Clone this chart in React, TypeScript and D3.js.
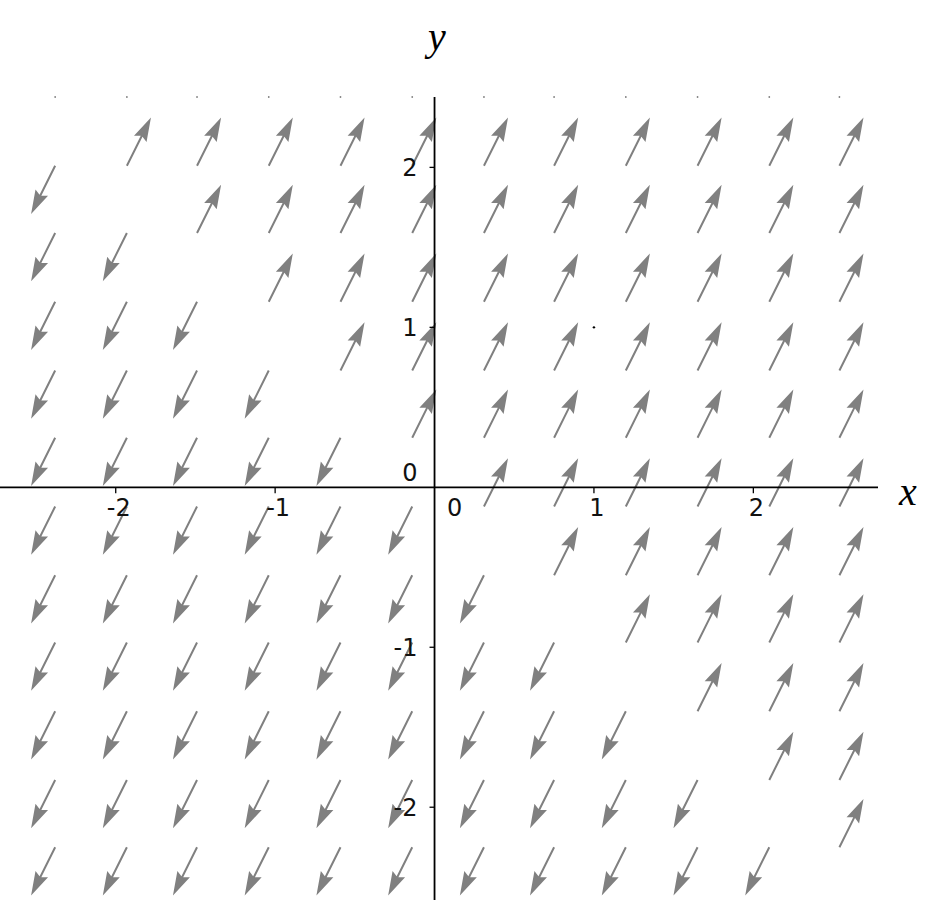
import React, { useRef, useEffect } from 'react'
import * as d3 from 'd3'

// grid of sample points (data coords)
const xGrid = [-2.38, -1.93, -1.49, -1.04, -0.59, -0.14, 0.31, 0.75, 1.2, 1.65, 2.1, 2.54]
const yGrid = [2.44, 2.01, 1.59, 1.16, 0.73, 0.31, -0.12, -0.55, -0.97, -1.4, -1.83, -2.25]

// direction of every arrow: 1 = along (1,2), -1 = against, 0 = zero vector (dot)
const signs = [
  [0, 0, 0, 0, 0, 0, 0, 0, 0, 0, 0, 0],
  [-1, 1, 1, 1, 1, 1, 1, 1, 1, 1, 1, 1],
  [-1, -1, 1, 1, 1, 1, 1, 1, 1, 1, 1, 1],
  [-1, -1, -1, 1, 1, 1, 1, 1, 1, 1, 1, 1],
  [-1, -1, -1, -1, 1, 1, 1, 1, 1, 1, 1, 1],
  [-1, -1, -1, -1, -1, 1, 1, 1, 1, 1, 1, 1],
  [-1, -1, -1, -1, -1, -1, 1, 1, 1, 1, 1, 1],
  [-1, -1, -1, -1, -1, -1, -1, 1, 1, 1, 1, 1],
  [-1, -1, -1, -1, -1, -1, -1, -1, 1, 1, 1, 1],
  [-1, -1, -1, -1, -1, -1, -1, -1, -1, 1, 1, 1],
  [-1, -1, -1, -1, -1, -1, -1, -1, -1, -1, 1, 1],
  [-1, -1, -1, -1, -1, -1, -1, -1, -1, -1, -1, 1],
]
const fieldDir = [1, 2]
const markPoints = [[1, 1]]

const xTicks = [-2, -1, 1, 2]
const yTicks = [-2, -1, 1, 2]

export default function App() {
  const ref = useRef<SVGSVGElement>(null)

  useEffect(() => {
    const svg = d3.select(ref.current)
    svg.selectAll('*').remove()

    const x = d3.scaleLinear().domain([-2.726, 2.782]).range([0, 878])
    const y = d3.scaleLinear().domain([-2.58, 2.44]).range([900, 97])

    const g = svg.append('g')

    // arrows
    const L = 54, hl = 24, ha = 21, hw = 7, sw = 1
    const ppx = x(fieldDir[0]) - x(0)
    const ppy = y(fieldDir[1]) - y(0)
    const norm = Math.hypot(ppx, ppy)
    const ux = ppx / norm, uy = ppy / norm
    const shape = [[0, -sw], [L - ha, -sw], [L - hl, -hw], [L, 0], [L - hl, hw], [L - ha, sw], [0, sw]]

    signs.forEach((row, r) => {
      row.forEach((s, c) => {
        const px = x(xGrid[c]), py = y(yGrid[r])
        if (s === 0) {
          g.append('circle').attr('cx', px).attr('cy', py).attr('r', 0.9).attr('fill', '#808080')
          return
        }
        const ax = ux * s, ay = uy * s
        const pts = shape.map(([u, v]) => [px + ax * u - ay * v, py + ay * u + ax * v])
        g.append('polygon')
          .attr('points', pts.map(p => p.join(',')).join(' '))
          .attr('fill', '#808080')
      })
    })

    // extra point
    g.selectAll('circle.mark')
      .data(markPoints)
      .enter()
      .append('circle')
      .attr('cx', d => x(d[0]))
      .attr('cy', d => y(d[1]))
      .attr('r', 1.2)
      .attr('fill', '#000')

    // axes
    const ax = svg.append('g')
    ax.append('line').attr('x1', x(-2.726)).attr('x2', x(2.782)).attr('y1', y(0)).attr('y2', y(0))
      .attr('stroke', '#000').attr('stroke-width', 1.8)
    ax.append('line').attr('x1', x(0)).attr('x2', x(0)).attr('y1', y(2.44)).attr('y2', y(-2.58))
      .attr('stroke', '#000').attr('stroke-width', 1.8)

    xTicks.forEach(t => {
      ax.append('line').attr('x1', x(t)).attr('x2', x(t)).attr('y1', y(0)).attr('y2', y(0) + 6)
        .attr('stroke', '#000').attr('stroke-width', 1.3)
      ax.append('text').attr('x', x(t) + 3).attr('y', y(0) + 29)
        .attr('text-anchor', 'middle').attr('font-family', 'DejaVu Sans').attr('font-size', 24)
        .attr('fill', '#111').text(String(t))
    })
    yTicks.forEach(t => {
      ax.append('line').attr('x1', x(0) - 5).attr('x2', x(0)).attr('y1', y(t)).attr('y2', y(t))
        .attr('stroke', '#000').attr('stroke-width', 1.3)
      ax.append('text').attr('x', x(0) - 17).attr('y', y(t) + 9)
        .attr('text-anchor', 'end').attr('font-family', 'DejaVu Sans').attr('font-size', 24)
        .attr('fill', '#111').text(String(t))
    })
    // origin labels
    ax.append('text').attr('x', x(0) + 20).attr('y', y(0) + 29)
      .attr('text-anchor', 'middle').attr('font-family', 'DejaVu Sans').attr('font-size', 24)
      .attr('fill', '#111').text('0')
    ax.append('text').attr('x', x(0) - 17).attr('y', y(0) - 6)
      .attr('text-anchor', 'end').attr('font-family', 'DejaVu Sans').attr('font-size', 24)
      .attr('fill', '#111').text('0')

    // axis labels
    ax.append('text').attr('x', 908).attr('y', 505)
      .attr('text-anchor', 'middle').attr('font-family', 'Liberation Serif').attr('font-style', 'italic')
      .attr('font-size', 40).text('x')
    ax.append('text').attr('x', 437).attr('y', 50)
      .attr('text-anchor', 'middle').attr('font-family', 'Liberation Serif').attr('font-style', 'italic')
      .attr('font-size', 40).text('y')
  }, [])

  return (
    <svg
      ref={ref}
      width={946}
      height={922}
      style={{ position: 'absolute', left: 0, top: 0, background: '#fff' }}
    />
  )
}
